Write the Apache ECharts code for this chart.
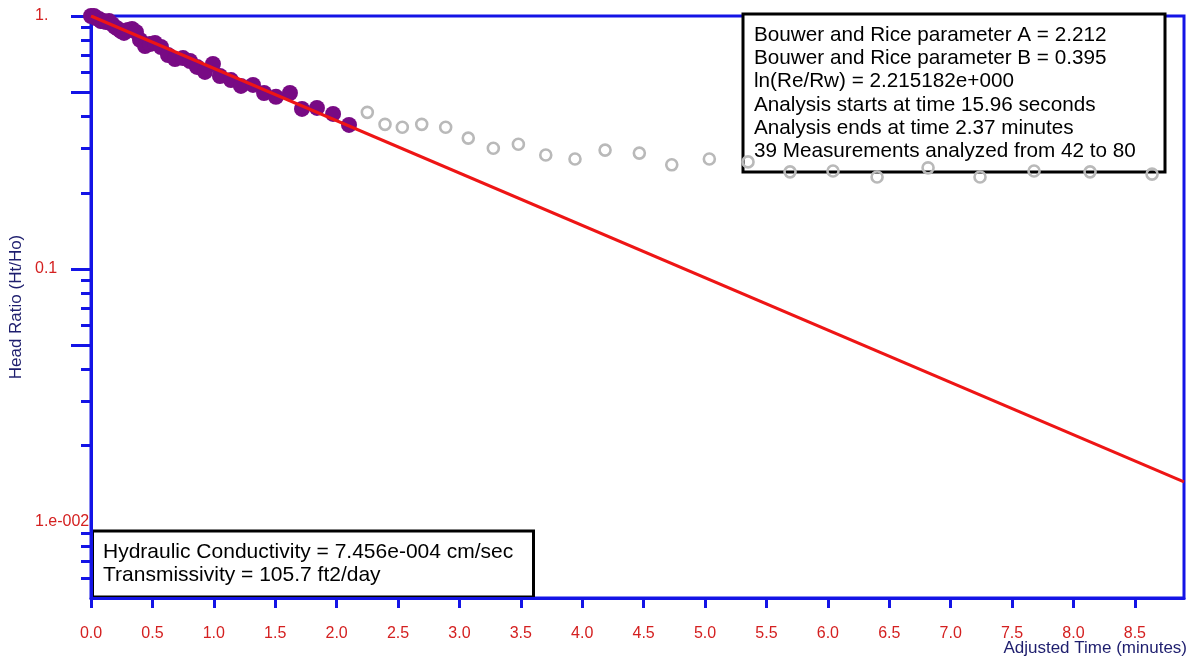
<!DOCTYPE html>
<html>
<head>
<meta charset="utf-8">
<script src="https://cdn.jsdelivr.net/npm/echarts@6/dist/echarts.min.js"></script>
<style>
html,body{margin:0;padding:0;background:#fff;}
#chart{width:1189px;height:658px;}
</style>
</head>
<body>
<div id="chart"></div>
<script>
// Analyzed measurements (purple, filled)
const analyzedTime = [0.000,0.024,0.041,0.065,0.081,0.098,0.122,0.147,0.171,0.195,0.220,0.244,0.269,0.301,0.334,0.366,0.399,0.440,0.480,0.521,0.570,0.627,0.684,0.749,0.806,0.863,0.928,0.993,1.050,1.140,1.221,1.319,1.409,1.506,1.620,1.718,1.840,1.971,2.101];
const analyzedRatio = [1.000,1.000,0.982,0.973,0.955,0.955,0.947,0.955,0.930,0.905,0.889,0.872,0.857,0.880,0.889,0.865,0.804,0.761,0.775,0.782,0.754,0.701,0.676,0.682,0.664,0.629,0.601,0.646,0.579,0.558,0.529,0.534,0.496,0.479,0.496,0.429,0.433,0.410,0.371];
// Measurements outside the analysis window (grey, hollow)
const otherTime = [2.250,2.394,2.535,2.693,2.888,3.072,3.276,3.480,3.703,3.941,4.186,4.465,4.729,5.035,5.350,5.692,6.042,6.401,6.816,7.239,7.679,8.135,8.640];
const otherRatio = [0.416,0.373,0.363,0.373,0.363,0.329,0.300,0.311,0.282,0.272,0.295,0.287,0.258,0.272,0.265,0.242,0.244,0.231,0.251,0.231,0.244,0.242,0.237];
// Fitted Bouwer & Rice straight line
const fitTime = [0, 8.9];
const fitRatio = [1.0, 0.0144];
// Axis ticks and labels
const xTicks = [0,0.5,1,1.5,2,2.5,3,3.5,4,4.5,5,5.5,6,6.5,7,7.5,8,8.5];
const xTickLabels = ['0.0','0.5','1.0','1.5','2.0','2.5','3.0','3.5','4.0','4.5','5.0','5.5','6.0','6.5','7.0','7.5','8.0','8.5'];
const yLabelValues = [1, 0.1, 0.01];
const yLabelTexts = ['1.', '0.1', '1.e-002'];
const yLongTicks = [1, 0.5, 0.1, 0.05];
const yShortTicks = [0.9,0.8,0.7,0.6,0.4,0.3,0.2,0.09,0.08,0.07,0.06,0.04,0.03,0.02,0.009,0.008,0.007,0.006];
const xAxisTitle = 'Adjusted Time (minutes)';
const yAxisTitle = 'Head Ratio (Ht/Ho)';
const infoLines = [
  'Bouwer and Rice parameter A = 2.212',
  'Bouwer and Rice parameter B = 0.395',
  'ln(Re/Rw) = 2.215182e+000',
  'Analysis starts at time 15.96 seconds',
  'Analysis ends at time 2.37 minutes',
  '39 Measurements analyzed from 42 to 80'
];
const resultLines = [
  'Hydraulic Conductivity = 7.456e-004 cm/sec',
  'Transmissivity = 105.7 ft2/day'
];

const zip = (a, b) => a.map((v, i) => [v, b[i]]);
const BLUE = '#1414e6';
const RED = '#d42020';
const NAVY = '#1e1e6e';
const FONT = "'Liberation Sans', Arial, sans-serif";

function findLabel(vals, texts, v) {
  for (let i = 0; i < vals.length; i++) {
    if (Math.abs(vals[i] - v) <= Math.abs(vals[i]) * 1e-6 + 1e-12) return texts[i];
  }
  return '';
}

const chart = echarts.init(document.getElementById('chart'));
chart.setOption({
  animation: false,
  backgroundColor: '#ffffff',
  grid: {left: 91, top: 16, right: 5, bottom: 60, containLabel: false, outerBoundsMode: 'none',
    show: true, borderColor: BLUE, borderWidth: 3, backgroundColor: 'transparent'},
  xAxis: {
    type: 'value', min: 0, max: 8.9,
    axisLine: {show: true, lineStyle: {color: BLUE, width: 3}},
    axisTick: {show: true, inside: false, length: 10, lineStyle: {color: BLUE, width: 3}, customValues: xTicks},
    axisLabel: {show: true, margin: 28, color: RED, fontSize: 16, fontFamily: FONT, customValues: xTicks,
      formatter: v => findLabel(xTicks, xTickLabels, v)},
    splitLine: {show: false}
  },
  yAxis: [{
    type: 'log', min: 0.005, max: 1, logBase: 10, position: 'left',
    name: yAxisTitle, nameLocation: 'middle', nameGap: 66, nameRotate: 90, nameMoveOverlap: false,
    nameTextStyle: {color: NAVY, fontSize: 17, fontFamily: FONT},
    axisLine: {show: true, lineStyle: {color: BLUE, width: 3}},
    axisTick: {show: true, inside: false, length: 20, lineStyle: {color: BLUE, width: 3}, customValues: yLongTicks},
    axisLabel: {show: true, margin: 56, align: 'left', color: RED, fontSize: 16, fontFamily: FONT, customValues: yLabelValues,
      formatter: v => findLabel(yLabelValues, yLabelTexts, v)},
    splitLine: {show: false}
  }, {
    type: 'log', min: 0.005, max: 1, logBase: 10, position: 'left',
    axisLine: {show: false},
    axisTick: {show: true, inside: false, length: 10, lineStyle: {color: BLUE, width: 3}, customValues: yShortTicks},
    axisLabel: {show: false},
    splitLine: {show: false}
  }],
  series: [{
    type: 'scatter', name: 'other', data: zip(otherTime, otherRatio),
    symbol: 'circle', symbolSize: 11,
    itemStyle: {color: 'rgba(255,255,255,0)', borderColor: '#b9b9b9', borderWidth: 2.6, opacity: 1},
    z: 2
  }, {
    type: 'scatter', name: 'analyzed', data: zip(analyzedTime, analyzedRatio),
    symbol: 'circle', symbolSize: 16, clip: false,
    itemStyle: {color: '#780a84', opacity: 1},
    z: 3
  }, {
    type: 'line', name: 'fit', data: zip(fitTime, fitRatio),
    symbol: 'none', lineStyle: {color: '#ee1515', width: 3},
    z: 4
  }],
  graphic: [{
    type: 'text', right: 2, top: 640, z: 50,
    style: {text: xAxisTitle, fill: NAVY, font: "17px 'Liberation Sans', Arial, sans-serif"}
  }, {
    type: 'group', z: 100,
    children: [{
      type: 'rect', shape: {x: 743, y: 14, width: 422, height: 158},
      style: {fill: '#ffffff', stroke: '#000000', lineWidth: 3}
    }, {
      type: 'text', x: 754, y: 23.5,
      style: {text: infoLines.join('\n'), fill: '#000000', font: "20.7px 'Liberation Sans', Arial, sans-serif", lineHeight: 23.3, verticalAlign: 'top', align: 'left'}
    }]
  }, {
    type: 'group', z: 100,
    children: [{
      type: 'rect', shape: {x: 92.5, y: 531, width: 441, height: 66},
      style: {fill: '#ffffff', stroke: '#000000', lineWidth: 3}
    }, {
      type: 'text', x: 103, y: 540.5,
      style: {text: resultLines.join('\n'), fill: '#000000', font: "21px 'Liberation Sans', Arial, sans-serif", lineHeight: 23, verticalAlign: 'top', align: 'left'}
    }]
  }]
});
</script>
</body>
</html>
